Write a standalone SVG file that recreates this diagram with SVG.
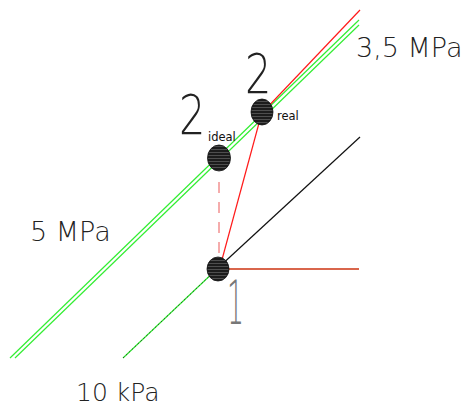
<svg xmlns="http://www.w3.org/2000/svg" width="468" height="406" viewBox="0 0 468 406">
<defs>
<pattern id="hatch" width="4" height="3" patternUnits="userSpaceOnUse">
<rect width="4" height="3" fill="#1c1c1c"/>
<rect y="2" width="4" height="0.8" fill="#5a5a5a"/>
</pattern>
<style>
.t{font-family:"DejaVu Sans","Liberation Sans",sans-serif;font-weight:200;fill:#222}
.s{font-family:"DejaVu Sans","Liberation Sans",sans-serif;font-size:11.5px;fill:#111}
.g{stroke:#33ee33;stroke-width:1.2;fill:none}
.r{stroke:#ff1a1a;stroke-width:1.2;fill:none}
.k{stroke:#111;stroke-width:1.2;fill:none}
.pt{fill:url(#hatch);stroke:#111;stroke-width:0.8}
</style>
</defs>
<rect width="468" height="406" fill="#fff"/>
<g id="connectors">
<line class="g" x1="10" y1="358" x2="359" y2="20"/>
<line class="g" x1="15" y1="358" x2="359" y2="25"/>
<line class="r" x1="262" y1="113" x2="360" y2="10"/>
<line class="g" x1="123" y1="358" x2="218" y2="268"/>
<line x1="123" y1="358" x2="218" y2="268" stroke="#111" stroke-width="0.6" stroke-dasharray="2 2"/>
<line class="k" x1="218" y1="268" x2="360" y2="137"/>
<line x1="222" y1="269" x2="359" y2="269" stroke="#cc3311" stroke-width="1.6"/>
<line class="r" x1="220" y1="267" x2="262" y2="112"/>
<line x1="219" y1="182" x2="219" y2="260" stroke="#f08080" stroke-width="1.3" stroke-dasharray="11 9"/>
</g>
<g id="node-2ideal">
<ellipse class="pt" cx="219" cy="158" rx="11.5" ry="13"/>
<text class="t" transform="translate(179,134) scale(0.74,1)" font-size="56">2</text>
<text class="s" x="208" y="141">ideal</text>
</g>
<g id="node-2real">
<ellipse class="pt" cx="262" cy="112" rx="11" ry="13"/>
<text class="t" transform="translate(245,93) scale(0.74,1)" font-size="56">2</text>
<text class="s" x="277" y="120">real</text>
</g>
<g id="node-1">
<ellipse class="pt" cx="218" cy="269" rx="11" ry="12"/>
<text x="227" y="324" font-size="60" font-family="DejaVu Sans, Liberation Sans, sans-serif" font-weight="200" fill="#777" textLength="17" lengthAdjust="spacingAndGlyphs">1</text>
</g>
<g id="labels">
<text class="t" x="356" y="57" font-size="27">3,5 MPa</text>
<text class="t" x="30" y="241" font-size="27">5 MPa</text>
<text class="t" x="76" y="401" font-size="25">10 kPa</text>
</g>
</svg>
